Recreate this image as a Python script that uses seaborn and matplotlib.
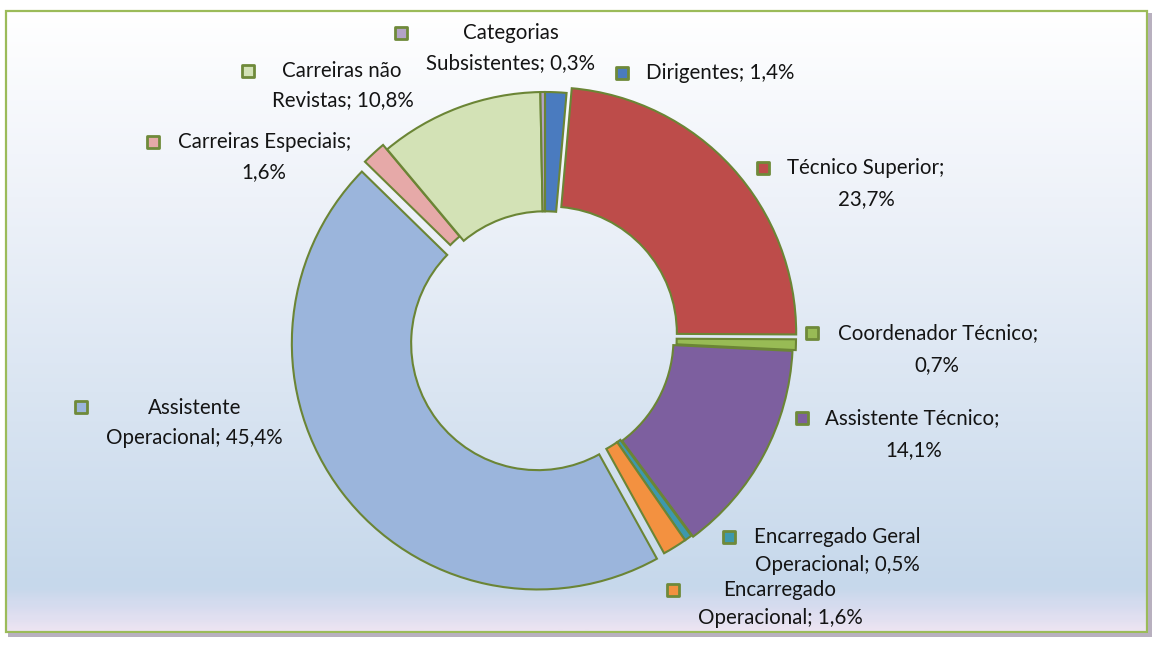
import numpy as np
import matplotlib
matplotlib.use("Agg")
import matplotlib.pyplot as plt
from matplotlib.patches import Rectangle
from matplotlib.colors import LinearSegmentedColormap
import seaborn as sns

# ---- data ----
categories = ["Dirigentes", "Técnico Superior", "Coordenador Técnico", "Assistente Técnico",
              "Encarregado Geral Operacional", "Encarregado Operacional", "Assistente Operacional",
              "Carreiras Especiais", "Carreiras não Revistas", "Categorias Subsistentes"]
values = [1.4, 23.7, 0.7, 14.1, 0.5, 1.6, 45.4, 1.6, 10.8, 0.3]
label_lines = [["Dirigentes; 1,4%"],
               ["Técnico Superior;", "23,7%"],
               ["Coordenador Técnico;", "0,7%"],
               ["Assistente Técnico;", "14,1%"],
               ["Encarregado Geral", "Operacional; 0,5%"],
               ["Encarregado", "Operacional; 1,6%"],
               ["Assistente", "Operacional; 45,4%"],
               ["Carreiras Especiais;", "1,6%"],
               ["Carreiras não", "Revistas; 10,8%"],
               ["Categorias", "Subsistentes; 0,3%"]]
colors = ["#4a7bbf", "#bd4c4a", "#98bb55", "#7d5f9f", "#3d98ad", "#f39140",
          "#9bb5dc", "#e6a9a8", "#d3e2b6", "#b3a2c7"]
explode_px = [0, 7, 5, 2, 0, 0, 9, 6, 0, 0]

sns.set_theme(style="white")
plt.rcParams["font.family"] = ["Lato", "DejaVu Sans"]

W, H = 1154, 655
fig = plt.figure(figsize=(W / 100, H / 100), dpi=100)
ax = fig.add_axes([0, 0, 1, 1])

def Y(y):
    return H - y

# donut
cx, cy, R = 545, Y(338), 246
wedges, _ = ax.pie(values, colors=colors, startangle=90, counterclock=False,
                   center=(cx, cy), radius=R, explode=explode_px,
                   wedgeprops=dict(width=R * 0.485, edgecolor="#6b8535", linewidth=1.5),
                   frame=True)
for w in wedges:
    w.set_zorder(3)
ax.set_xlim(0, W)
ax.set_ylim(0, H)
ax.set_aspect("equal")
ax.axis("off")

# background gradient
cmap = LinearSegmentedColormap.from_list(
    "bg", [(0, "#ffffff"), (0.3, "#eef2f9"), (0.93, "#c6d8eb"), (0.965, "#d8dcef"), (1, "#ece4f2")])
grad = np.linspace(0, 1, 300).reshape(-1, 1)
ax.imshow(grad, cmap=cmap, aspect="auto", extent=(6, 1147, Y(632), Y(11)), zorder=0)
ax.add_patch(Rectangle((6, Y(632)), 1141, 621, fill=False, edgecolor="#9bbb59", lw=1.6, zorder=1))
ax.add_patch(Rectangle((8, Y(637)), 1144, 4, facecolor="#b8b0bf", edgecolor="none", zorder=1))
ax.add_patch(Rectangle((1148, Y(637)), 4, 624, facecolor="#b8b0bf", edgecolor="none", zorder=1))
ax.set_xlim(0, W)
ax.set_ylim(0, H)

# labels: (square x, square y, [(line center x, line y), ...])
label_pos = [
    (622, 73, [(720, 73)]),
    (763, 168, [(866, 168), (866, 199)]),
    (812, 333, [(938, 333), (937, 365)]),
    (802, 418, [(912, 418), (914, 450)]),
    (729, 537, [(837, 537), (837, 565)]),
    (673, 590, [(780, 590), (780, 618)]),
    (81, 407, [(195, 408), (194, 438)]),
    (153, 142, [(265, 142), (264, 172)]),
    (248, 71, [(342, 71), (343, 100)]),
    (401, 33, [(511, 33), (511, 63)]),
]
for (sx, sy, lines), txt, col in zip(label_pos, label_lines, colors):
    ax.scatter([sx], [Y(sy)], marker="s", s=85, color=col, edgecolor="#6f8a3a",
               linewidth=2.0, zorder=5)
    for (lx, ly), t in zip(lines, txt):
        ax.text(lx, Y(ly), t, ha="center", va="center", fontsize=14.8, color="#141414", zorder=5)

fig.savefig("out.png", dpi=100)
